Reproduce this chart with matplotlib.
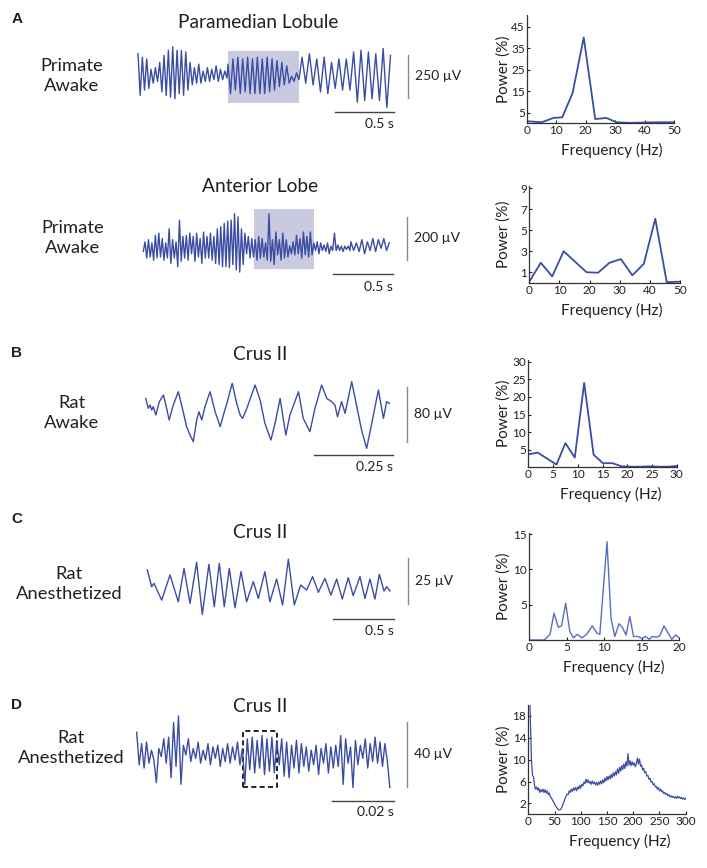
import numpy as np
import matplotlib
matplotlib.use("Agg")
import matplotlib.pyplot as plt
from matplotlib.patches import Rectangle

plt.rcParams["font.family"] = ["Lato", "DejaVu Sans"]

W, H = 707, 868
BLUE = "#3b4da3"
INK = "#231f20"

# ---------------- traces ----------------
# A, paramedian lobule (uV), peaks/troughs in order, one list per time span (s)
a1_spans = [(0.0, 0.754), (0.763, 1.364), (1.39, 2.14)]
a1_part1 = [140, -100, 120, -70, 110, -60, 50, -30, 60, -20, 90, -80, 130, -100,
            160, -110, 180, -120, 160, -90, 160, -100, 150, -70, 90, -40, 60, -30,
            80, -30, 40, -20, 60, -20, 50, -10, 70, -20, 50, -10, 40, 0]
a1_part2 = [80, -90, 110, -70, 120, -90, 110, -80, 120, -90, 110, -90, 120, -90,
            110, -90, 120, -80, 110, -70, 100, -50, 90, -40, 70, -30, 10, -20, 30, -10]
a1_part3 = [120, -30, 140, -40, 110, -80, 120, -90, 90, -60, 110, -70, 110, -70,
            150, -140, 160, -130, 150, -120, 140, -130, 170, -170, 130]
a1_box = (0.76, 1.367, -146, 157)

# A, anterior lobe (uV)
a2_spans = [(0.0, 1.722), (1.73, 2.05)]
a2_part1 = [-15, 30, -45, 40, -40, 25, -55, 60, -45, 70,
            -40, 45, -55, 25, -45, 90, -70, 40, -45, 30,
            -85, 130, -60, 55, -45, 60, -55, 70, -25, 55,
            -60, 70, -40, 45, -70, 75, -45, 55, -45, 70,
            -55, 55, -70, 90, -75, 100, -85, 115, -85, 125,
            -90, 130, -75, 160, -100, 145, -110, 90, -75, 70,
            -25, 55, -45, 45, -40, 40, -55, 55, -45, 45,
            -40, 25, -55, 160, -60, 40, -75, 75, -30, 40,
            -55, 70, -45, 40, -40, 10, -25, 30, -30, 60,
            -25, 45, -45, 75, -30, 55, -40, 75, -30, 25,
            -10, 30, -25, 25, -10, 15, -15, 25, -25, 10,
            -10, 70, -10, 15, -10, 10, -15, 10, -5, 10, -10]
a2_part2 = [30, -10, 25, -15, 40, -25, 30, -10, 45, -15, 40, 0, 45, -10, 25]
a2_box = (0.922, 1.425, -97, 180)

# B, rat awake crus II
b_ms = [0, 8, 14, 19, 24, 32, 43, 56, 66, 74, 87, 103, 117, 129, 140, 150, 161,
        168, 177, 187, 203, 219, 235, 245, 256, 273, 287, 298, 306, 319, 345, 361,
        376, 395, 408, 424, 442, 455, 482, 497, 518, 534, 555, 571, 587, 597, 605,
        618, 629, 650, 666, 681, 697, 713, 734, 750, 760, 769]
b_uv = [19.4, 4.9, 9.7, 2.4, 7.3, -4.9, 14.6, 24.3, 4.9, -12.1, 9.7, 29.1, 2.4,
        -21.8, -34, -43.7, -12.1, 0, -12.1, 7.3, 29.1, 0, -21.8, -4.9, 12.1, 41.2,
        12.1, -4.9, -9.7, 4.9, 38.8, 17, -17, -41.2, -17, 19.4, -34, -4.9, 29.1,
        -9.7, -29.1, 4.9, 38.8, 19.4, 14.6, 9.7, -7.3, 14.6, -2.4, 43.7, 7.3,
        -26.7, -53.4, -17, 31.5, -9.7, 14.6, 12.1]

# C, rat anesthetized crus II
c_ms = [0, 36, 55, 118, 186, 254, 301, 350, 404, 451, 505, 549, 590, 631, 672,
        719, 768, 814, 869, 910, 964, 1005, 1060, 1109, 1156, 1205, 1257, 1306,
        1355, 1402, 1456, 1505, 1552, 1598, 1647, 1688, 1743, 1784, 1825, 1866,
        1902, 1940, 1962, 1989]
c_uv = [9.0, 0, 1.8, -7.2, 6.3, -8.1, 9.8, -9.0, 13.1, -14.9, 12.0, -10.7, 12.5,
        -10.7, 9.8, -11.3, 8.1, -8.1, 2.7, -6.3, 8.1, -8.1, 4.1, -9.8, 14.7, -9.8,
        0.9, -1.8, 5.4, -3.0, 4.5, -4.5, 4.1, -6.6, 4.8, -4.8, 5.4, -6.3, 4.1,
        -6.6, 6.6, -2.3, 0, -2.3]

# D, rat anesthetized crus II, fast sweep (0.0808 s)
d_dur_ms = 80.8
d_uv = [16, -4, 9, -6, 10, -3, 5, -1, -15, 6, 1, 12, -3, 13, -12, 22, -5, 26, -16, 8,
        2, 12, -2, 6, 0, 10, -3, 5, -1, 9, -4, 7, 0, 8, -5, 6, -2, 9, -3, 7, -1, 10,
        -4, 6, -16, 12, -7, 13, -9, 11, -6, 14, -10, 12, -8, 13, -9, 11, -4,
        12, -11, 10, -12, 8, -6, 11, -9, 9, -5, 7, -8, 5, -4, 8, -10, 6, -3, 9, -9,
        7, -6, 8, -5, 14, -16, 12, -3, 7, -18, 11, -4, 8, 0, 12, -6, 9, -2, 13, -3,
        10, -5, 9, -2, -18]
d_box = (33.8, 44.9, -17.5, 16.8)

# ---------------- power spectra ----------------
a1_hz = [0, 5, 9, 12, 15.5, 19.3, 23.2, 27, 30.5, 35, 40, 45, 50]
a1_pow = [1.2, 0.7, 2.7, 3.0, 14.2, 40, 2.2, 2.7, 0.7, 0.4, 0.6, 0.7, 0.7]
a2_hz = [0, 3.8, 7.6, 11.4, 15.2, 19, 22.8, 26.6, 30.4, 34.2, 38, 41.8, 45.6, 50]
a2_pow = [0.1, 1.9, 0.6, 3.0, 2.0, 1.0, 0.95, 1.9, 2.25, 0.7, 1.8, 6.1, 0.05, 0.1]
b_hz = [0, 1.9, 3.8, 5.7, 7.5, 9.4, 11.3, 13.2, 15.1, 17.0, 18.9, 20.8, 22.6, 24.5,
        26.4, 28.3, 30.0]
b_pow = [3.7, 4.2, 2.5, 0.8, 6.9, 2.8, 24.0, 3.6, 1.2, 1.2, 0.3, 0.2, 0.2, 0.3,
         0.2, 0.2, 0.4]
c_hz = [0, 2.0, 2.76, 3.3, 3.87, 4.3, 4.85, 5.4, 5.87, 6.4, 7.0, 7.65, 8.4, 9.0,
        9.4, 10.36, 10.9, 11.4, 11.96, 12.4, 12.9, 13.4, 13.9, 14.5, 15.0, 15.5,
        16.0, 16.4, 17.0, 17.4, 17.96, 18.5, 19.0, 19.5, 20.0]
c_pow = [0, 0, 0.8, 3.8, 1.8, 2.0, 5.2, 1.2, 0.3, 0.8, 0.3, 0.8, 2.0, 1.0, 0.8,
         13.9, 3.0, 0.5, 2.3, 1.8, 0.7, 3.3, 0.5, 0.5, 0.2, 0.5, 0.1, 0.5, 0.4,
         0.6, 2.0, 1.0, 0.1, 0.7, 0.3]
d_hz = np.arange(0, 301, 2)
d_pow = [30, 24, 17, 10, 7.2, 6.8, 5.2, 4.6, 5.0, 4.4,
         4.8, 4.0, 4.5, 4.1, 4.6, 4.0, 4.5, 3.9, 4.3, 3.6,
         3.9, 3.2, 3.0, 2.6, 2.3, 1.9, 1.6, 1.2, 1.0, 0.8,
         0.8, 0.9, 1.3, 1.8, 2.3, 2.9, 3.3, 3.7, 3.6, 4.3,
         4.0, 4.6, 4.2, 4.8, 4.4, 4.9, 4.3, 5.0, 4.6, 5.3,
         4.8, 5.5, 5.2, 5.9, 5.6, 6.4, 5.8, 6.3, 5.7, 6.0,
         5.5, 6.1, 5.6, 5.9, 5.4, 5.8, 5.3, 5.9, 5.5, 6.1,
         5.6, 6.3, 5.8, 6.6, 6.1, 6.9, 6.3, 7.0, 6.5, 7.3,
         6.7, 7.6, 7.0, 7.8, 7.2, 8.3, 7.5, 8.6, 7.9, 8.9,
         8.2, 9.2, 8.4, 9.6, 8.8, 11.1, 9.0, 9.8, 8.9, 9.6,
         9.0, 9.4, 8.7, 9.3, 10.3, 9.2, 10.1, 8.8, 9.0, 8.1,
         8.4, 7.6, 7.8, 7.0, 7.1, 6.4, 6.6, 5.9, 6.0, 5.4,
         5.6, 5.0, 5.1, 4.6, 4.9, 4.3, 4.6, 4.1, 4.3, 3.8,
         4.0, 3.6, 3.8, 3.4, 3.6, 3.2, 3.4, 3.1, 3.3, 3.0,
         3.2, 2.9, 3.3, 3.0, 3.2, 2.9, 3.1, 2.8, 3.0, 2.7,
         2.9]


def span_times(spans, parts):
    return np.concatenate([np.linspace(s, e, len(p)) for (s, e), p in zip(spans, parts)])


fig = plt.figure(figsize=(W / 100, H / 100), dpi=100)
ann = fig.add_axes([0, 0, 1, 1])
ann.set_xlim(0, W)
ann.set_ylim(H, 0)
ann.axis("off")


def trace_axes(x0, k, y0, m, half=62, left=125, right=400):
    # x0/y0: pixel of t=0 / 0 uV, k: px per time unit, m: px per uV
    ax = fig.add_axes([left / W, 1 - (y0 + half) / H, (right - left) / W, 2 * half / H])
    ax.set_xlim((left - x0) / k, (right - x0) / k)
    ax.set_ylim(-half / m, half / m)
    ax.axis("off")
    return ax


def spec_axes(left, top, right, bottom, xlim, ylim, xticks, yticks, xlab_x):
    ax = fig.add_axes([left / W, 1 - bottom / H, (right - left) / W, (bottom - top) / H])
    ax.patch.set_alpha(0)
    ax.set_xlim(*xlim)
    ax.set_ylim(*ylim)
    ax.set_xticks(xticks)
    ax.set_yticks(yticks)
    for s in ("top", "right"):
        ax.spines[s].set_visible(False)
    for s in ("left", "bottom"):
        ax.spines[s].set_linewidth(0.9)
        ax.spines[s].set_color("#333333")
    ax.tick_params(direction="in", length=2.5, width=0.8, labelsize=8.5, pad=1.5,
                   colors=INK)
    ax.set_xlabel("Frequency (Hz)", fontsize=11, color=INK)
    ax.set_ylabel("Power (%)", fontsize=11, color=INK)
    ax.xaxis.set_label_coords((xlab_x - left) / (right - left), -20 / (bottom - top))
    ax.yaxis.set_label_coords((511 - left) / (right - left), 0.5)
    return ax


def scale_bars(xv, yv0, yv1, xh0, xh1, yh, vtext, ttext, ty):
    ann.plot([xv, xv], [yv0, yv1], color="#8a8a8a", lw=1.0)
    ann.plot([xh0, xh1], [yh, yh], color="#444444", lw=1.0)
    ann.text(xv + 7, (yv0 + yv1) / 2, vtext, fontsize=10, color=INK, ha="left", va="center")
    ann.text(xh1, ty, ttext, fontsize=10, color=INK, ha="right", va="center")


def row_text(letter, ly, title, tx, ty, lab, lx, lyc):
    if letter:
        ann.text(17, ly, letter, fontsize=11, fontweight="bold", color=INK,
                 family=["Liberation Sans"], ha="center", va="center")
    ann.text(tx, ty, title, fontsize=13.8, color=INK, ha="center", va="center")
    ann.text(lx, lyc, lab, fontsize=13.2, color=INK, ha="center", va="center",
             linespacing=1.35)


# ---- row A1 ----
row_text("A", 19, "Paramedian Lobule", 258, 22, "Primate\nAwake", 72, 76)
ax = trace_axes(138, 118, 78, 1 / 5.77)
t0, t1, v0, v1 = a1_box
ax.add_patch(Rectangle((t0, v0), t1 - t0, v1 - v0, color="#c9cadf", lw=0, zorder=0))
ax.plot(span_times(a1_spans, [a1_part1, a1_part2, a1_part3]),
        a1_part1 + a1_part2 + a1_part3, color=BLUE, lw=1.0)
scale_bars(408, 55, 98, 335, 394, 112, "250 µV", "0.5 s", 124)
ax = spec_axes(527, 15, 674, 122.7, (0, 50), (0.5, 50.4), range(0, 51, 10),
               [5, 15, 25, 35, 45], 612)
ax.plot(a1_hz, a1_pow, color=BLUE, lw=1.3)

# ---- row A2 ----
row_text(None, 0, "Anterior Lobe", 260, 187, "Primate\nAwake", 73, 238)
ax = trace_axes(143.3, 120, 248.3, 1 / 4.62)
t0, t1, v0, v1 = a2_box
ax.add_patch(Rectangle((t0, v0), t1 - t0, v1 - v0, color="#c9cadf", lw=0, zorder=0))
ax.plot(span_times(a2_spans, [a2_part1, a2_part2]), a2_part1 + a2_part2,
        color=BLUE, lw=1.0)
scale_bars(407.3, 216.7, 260, 333.3, 393.3, 274.3, "200 µV", "0.5 s", 287)
ax = spec_axes(529.3, 185.7, 680, 282.7, (0, 50), (0, 9.25), range(0, 51, 10),
               [1, 3, 5, 7, 9], 612)
ax.plot(a2_hz, a2_pow, color=BLUE, lw=1.3)

# ---- row B ----
row_text("B", 353, "Crus II", 260, 355, "Rat\nAwake", 72, 413)
ax = trace_axes(145.7, 0.317, 411.7, 1 / 1.455)
ax.plot(b_ms, b_uv, color=BLUE, lw=1.0)
scale_bars(407.3, 386.7, 441.7, 314, 393.3, 455, "80 µV", "0.25 s", 467)
ax = spec_axes(528.3, 360, 676.7, 466.7, (0, 30), (0.2, 30.5), range(0, 31, 5),
               [5, 10, 15, 20, 25, 30], 611)
ax.plot(b_hz, b_pow, color=BLUE, lw=1.3)

# ---- row C ----
row_text("C", 519, "Crus II", 260, 533, "Rat\nAnesthetized", 69, 584)
ax = trace_axes(147.3, 0.122, 586.7, 1 / 0.536)
ax.plot(c_ms, c_uv, color=BLUE, lw=1.0, solid_joinstyle="round")
scale_bars(407.7, 557.7, 604.3, 333.3, 394.3, 619, "25 µV", "0.5 s", 631)
ax = spec_axes(529.3, 533.3, 679.3, 640, (0, 20), (0, 15.1), range(0, 21, 5),
               [5, 10, 15], 614)
ax.plot(c_hz, c_pow, color="#5a6cc2", lw=1.0)

# ---- row D ----
row_text("D", 705, "Crus II", 260, 707, "Rat\nAnesthetized", 71, 748)
ax = trace_axes(136.7, 3.133, 758.3, 1 / 0.615)
ax.plot(np.linspace(0, d_dur_ms, len(d_uv)), d_uv, color=BLUE, lw=1.0)
t0, t1, v0, v1 = d_box
ax.add_patch(Rectangle((t0, v0), t1 - t0, v1 - v0, fill=False, ec="black", lw=1.2,
                       ls=(0, (3, 2))))
scale_bars(407.3, 721.7, 786.7, 331.7, 394.3, 800.7, "40 µV", "0.02 s", 812)
ax = spec_axes(528.3, 705, 685.7, 814.3, (0, 300), (0, 20), range(0, 301, 50),
               [2, 6, 10, 14, 18], 620)
ax.plot(d_hz, d_pow, color=BLUE, lw=0.9)

fig.savefig("out.png", dpi=100)
